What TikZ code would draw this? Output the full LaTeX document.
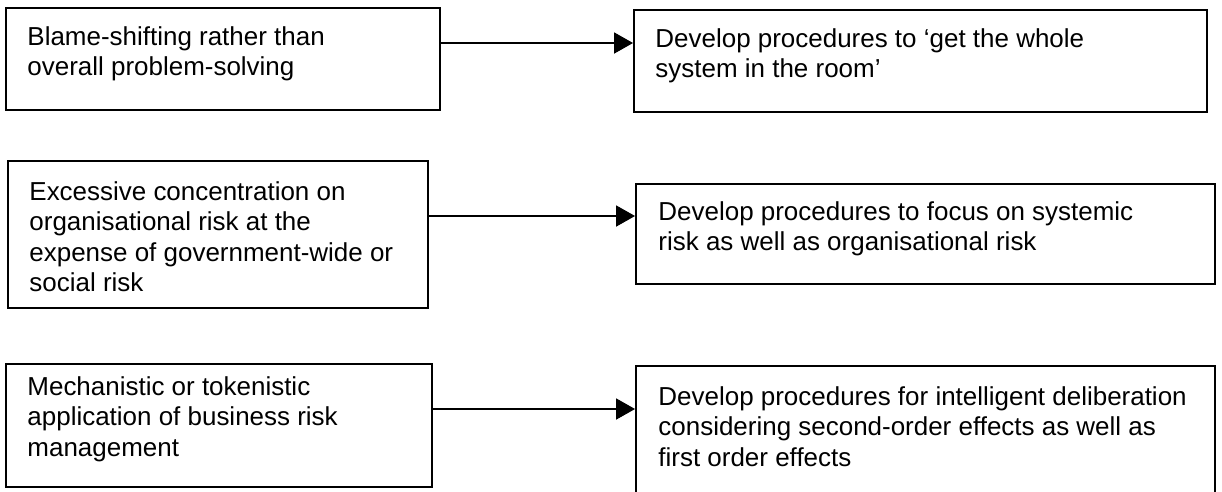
\documentclass[tikz,border=0pt]{standalone}
\usepackage{fontspec}
\setmainfont{Liberation Sans}
\usetikzlibrary{arrows.meta,fit}
\begin{document}
\begin{tikzpicture}[x=0.4525pt,y=-0.4525pt,
  box/.style={draw, line width=0.5pt, inner sep=0pt, rectangle},
  txt/.style={anchor=base west, inner sep=0pt, font=\fontsize{11.75}{13.8}\selectfont},
  arr/.style={line width=0.5pt, -{Triangle[length=8.6pt,width=9.6pt]}, shorten >=0.2pt}]
\useasboundingbox (0,0) rectangle (1222,491);
\clip (0,0) rectangle (1222,491);
\fill[white] (0,0) rectangle (1222,491);
% boxes
\node[box, fit={(6,8) (440,110)}] (L1) {};
\node[box, fit={(634,10) (1207,112)}] (R1) {};
\node[box, fit={(8,161) (428,308)}] (L2) {};
\node[box, fit={(636,184) (1215,284)}] (R2) {};
\node[box, fit={(6,364) (432,487)}] (L3) {};
\node[box, fit={(636,366) (1215,500)}] (R3) {};
% texts
\node[txt] (tL1) at (27,45) {\parbox[t]{300pt}{Blame-shifting rather than\\overall problem-solving}};
\node[txt] (tR1) at (655,47) {\parbox[t]{300pt}{Develop procedures to ‘get the whole\\system in the room’}};
\node[txt] (tL2) at (29,200) {\parbox[t]{300pt}{Excessive concentration on\\organisational risk at the\\expense of government-wide or\\social risk}};
\node[txt] (tR2) at (658,220) {\parbox[t]{300pt}{Develop procedures to focus on systemic\\risk as well as organisational risk}};
\node[txt] (tL3) at (27,395) {\parbox[t]{300pt}{Mechanistic or tokenistic\\application of business risk\\management}};
\node[txt] (tR3) at (658,405) {\parbox[t]{300pt}{Develop procedures for intelligent deliberation\\considering second-order effects as well as\\first order effects}};
% arrows
\coordinate (a1) at (0,43);
\coordinate (a2) at (0,216);
\coordinate (a3) at (0,409);
\draw[arr] (a1 -| L1.east) -- (a1 -| R1.west);
\draw[arr] (a2 -| L2.east) -- (a2 -| R2.west);
\draw[arr] (a3 -| L3.east) -- (a3 -| R3.west);
\end{tikzpicture}
\end{document}
